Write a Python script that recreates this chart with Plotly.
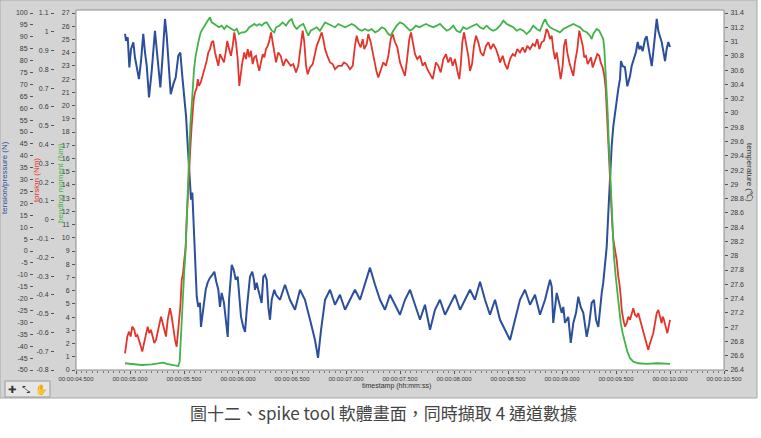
import plotly.graph_objects as go

# ---------------- data ----------------
# tension / pressure (N)
TENSION_T = [4.954,4.963,4.979,4.994,5.009,5.031,5.046,5.068,5.083,5.102,5.123,5.139,5.155,5.176,5.201,5.231,5.247,5.269,5.281,5.299,5.324,5.340,5.355,5.377,5.401,5.423,5.447,5.466,5.484,5.503,5.519,5.531,5.544,5.556,
             5.565,5.577,5.586,5.595,5.608,5.618,5.632,5.648,5.657,5.667,5.679,5.701,5.719,5.741,5.762,5.781,5.799,5.818,5.833,5.849,5.870,5.886,5.905,5.917,5.932,5.942,5.960,5.979,5.997,6.012,6.028,6.049,6.065,6.081,6.095,6.111,6.132,6.148,6.157,6.173,6.188,6.204,6.219,6.234,6.250,6.266,6.281,6.296,6.312,6.336,
             6.352,6.389,6.435,6.481,6.528,6.574,6.620,6.667,6.713,6.741,6.769,6.806,6.852,6.898,6.944,6.991,7.037,7.083,7.130,7.176,7.222,7.269,7.315,7.361,7.407,7.454,7.500,7.546,7.593,7.639,7.685,7.731,7.778,7.824,7.870,7.917,7.963,8.009,8.056,8.102,8.148,8.194,8.241,8.287,8.333,8.380,8.426,8.472,8.519,8.565,8.611,8.657,8.704,8.750,8.796,8.843,
             8.889,8.905,8.919,8.951,8.975,8.997,9.012,9.028,9.058,9.081,9.105,9.130,9.151,9.173,9.197,9.213,9.229,9.253,9.275,9.296,9.315,9.336,9.352,9.368,9.382,9.398,9.414,9.429,9.438,9.444,
             9.460,9.475,9.491,9.506,9.521,9.537,9.546,9.562,9.583,9.605,9.630,9.645,9.667,9.685,9.701,9.716,9.731,9.747,9.769,9.784,9.799,9.815,9.831,9.845,9.861,9.877,9.892,9.907,9.923,9.938,9.954,9.969,9.984,10.000]
TENSION_V = [91.2,88.3,89.8,77.1,84.8,87.7,81.3,75.7,72.2,79.9,91.2,83.4,77.8,64.5,75.7,92.5,84.8,76.4,68.7,79.9,97.5,90.4,79.2,65.9,70.1,72.9,82.0,83.4,73.6,65.2,56.7,46.9,35.7,25.8,
             21.6,24.6,16.2,4.8,-9.1,-19.2,-23.5,-21.8,-31.9,-27.7,-23.5,-16.3,-13.3,-11.2,-10.0,-8.7,-12.9,-16.3,-23.5,-17.6,-21.8,-27.7,-36.1,-20.5,-12.1,-5.8,-7.9,-12.1,-10.8,-17.6,-27.7,-31.9,-34.0,-24.7,-16.3,-10.8,-8.7,-12.1,-16.3,-13.3,-16.3,-19.2,-21.8,-10.8,-10.0,-12.1,-23.5,-28.9,-20.5,-16.3,
             -18.4,-20.5,-14.2,-20.5,-24.7,-16.3,-20.5,-28.9,-37.4,-44.9,-33.1,-20.5,-16.3,-22.6,-18.4,-24.7,-20.5,-16.3,-20.5,-14.2,-7.0,-14.2,-20.5,-24.7,-18.4,-22.6,-26.8,-20.5,-16.3,-22.6,-28.9,-22.6,-33.1,-24.7,-20.5,-26.8,-22.6,-18.4,-24.7,-20.5,-16.3,-20.5,-12.9,-20.5,-26.8,-20.5,-28.9,-33.1,-37.4,-28.9,-20.5,-16.3,-22.6,-18.4,-26.8,-20.5,
             -12.1,-15.0,-30.2,-17.6,-21.8,-26.0,-23.5,-30.2,-27.7,-38.6,-30.2,-26.0,-19.2,-23.5,-26.0,-31.9,-36.1,-30.2,-21.8,-20.5,-28.9,-31.9,-23.5,-17.6,-13.3,-6.6,1.8,16.2,25.8,30.1,
             44.0,52.4,58.3,63.8,68.0,72.2,79.8,77.7,77.2,69.2,73.5,77.7,80.6,83.6,87.8,84.8,86.1,84.0,89.0,90.3,86.1,81.5,77.7,83.6,90.3,97.5,92.4,90.3,87.8,84.0,79.8,84.8,87.8,85.7]

# torsion (Nm)
TORSION_T = [4.954,4.963,4.975,4.991,5.006,5.021,5.040,5.053,5.068,5.083,5.099,5.114,5.130,5.148,5.164,5.179,5.194,5.210,5.225,5.241,5.256,5.271,5.287,5.303,5.318,5.333,5.349,5.370,5.386,5.401,5.417,5.432,5.442,5.454,5.466,5.479,5.491,5.503,5.516,5.525,5.534,5.544,
             5.549,5.558,5.571,5.581,5.590,5.602,5.618,5.627,5.639,5.655,5.673,5.694,5.710,5.725,5.741,5.756,5.771,5.787,5.803,5.818,5.833,5.849,5.870,5.886,5.901,5.917,5.935,5.951,5.966,5.981,5.997,6.012,6.025,6.040,6.058,6.074,6.090,6.105,6.120,6.136,6.151,6.167,6.182,6.197,6.213,6.229,6.244,6.259,6.275,6.290,6.306,6.321,6.336,
             6.352,6.373,6.395,6.419,6.444,6.466,6.488,6.512,6.537,6.558,6.581,6.599,6.614,6.630,6.645,6.667,6.692,6.713,6.729,6.753,
             6.775,6.790,6.806,6.827,6.852,6.877,6.898,6.929,6.960,6.981,7.006,7.037,7.062,7.083,7.099,7.114,7.136,7.155,7.169,7.192,
             7.206,7.229,7.247,7.269,7.284,7.299,7.321,7.345,7.370,7.392,7.414,7.432,7.454,7.475,7.500,7.525,7.546,7.562,7.586,7.602,
             7.618,7.639,7.660,7.685,7.710,7.731,7.753,7.778,7.803,7.818,7.833,7.855,7.877,7.901,7.926,7.947,7.969,7.988,8.009,8.031,
             8.049,8.062,8.077,8.093,8.111,8.132,8.148,8.167,8.185,8.204,8.225,8.247,8.271,8.296,8.318,8.340,8.364,8.389,8.410,8.426,
             8.451,8.472,8.494,8.519,8.543,8.565,8.586,8.611,8.636,8.657,8.679,8.704,8.729,8.750,8.771,8.790,8.812,8.833,8.858,8.873,
             8.889,8.905,8.919,8.935,8.951,8.966,8.988,9.006,9.019,9.034,9.049,9.068,9.090,9.105,9.120,9.142,9.160,9.173,9.192,9.206,
             9.222,9.238,9.253,9.269,9.284,9.306,9.327,9.345,9.358,9.377,9.392,9.405,9.414,9.423,9.432,9.442,9.454,9.463,9.475,9.491,
             9.506,9.521,9.531,9.544,9.553,9.568,9.583,9.599,9.614,9.630,9.645,9.660,9.676,9.692,9.706,9.722,9.738,9.753,9.769,9.784,
             9.799,9.815,9.831,9.845,9.861,9.877,9.892,9.907,9.923,9.932,9.944,9.960,9.975,9.988,10.000]
TORSION_V = [-0.711,-0.676,-0.622,-0.596,-0.622,-0.569,-0.586,-0.622,-0.613,-0.640,-0.676,-0.702,-0.657,-0.604,-0.569,-0.604,-0.586,-0.622,-0.657,-0.640,-0.604,-0.551,-0.516,-0.551,-0.586,-0.622,-0.533,-0.471,-0.516,-0.586,-0.640,-0.676,-0.622,-0.533,-0.462,-0.320,-0.284,-0.213,-0.142,0.001,0.125,0.214,
             0.251,0.374,0.499,0.588,0.641,0.677,0.703,0.748,0.712,0.730,0.765,0.819,0.845,0.890,0.908,0.944,0.952,0.890,0.855,0.819,0.881,0.864,0.837,0.890,0.952,0.908,0.872,0.925,0.997,0.944,0.855,0.712,0.784,0.837,0.890,0.855,0.908,0.864,0.899,0.828,0.864,0.872,0.828,0.792,0.837,0.881,0.864,0.908,0.925,0.952,0.997,0.944,0.908,
             0.837,0.890,0.872,0.819,0.855,0.837,0.819,0.828,0.784,0.819,0.925,1.006,0.944,0.819,0.774,0.810,0.828,0.890,0.925,0.961,
             0.997,0.961,0.908,0.872,0.837,0.828,0.801,0.819,0.819,0.837,0.828,0.801,0.819,0.925,0.979,0.944,0.917,0.961,0.908,0.935,
             0.988,0.944,0.890,0.837,0.784,0.757,0.801,0.837,0.819,0.872,0.961,0.988,0.944,0.917,0.837,0.801,0.765,0.837,0.961,0.997,
             0.944,0.881,0.855,0.872,0.819,0.837,0.801,0.774,0.748,0.792,0.837,0.819,0.784,0.855,0.881,0.837,0.864,0.819,0.855,0.792,
             0.748,0.819,0.944,0.997,0.944,0.872,0.792,0.828,0.925,0.979,0.944,0.890,0.872,0.925,0.944,0.908,0.935,0.908,0.872,0.837,
             0.872,0.828,0.801,0.855,0.881,0.872,0.908,0.890,0.917,0.890,0.925,0.908,0.935,0.925,0.961,0.908,0.944,0.952,1.015,0.997,
             0.961,0.979,0.908,0.855,0.890,0.819,0.748,0.819,0.925,0.961,0.890,0.837,0.801,0.765,0.837,0.908,1.006,0.979,0.925,0.864,
             0.872,0.828,0.845,0.864,0.810,0.845,0.881,0.872,0.837,0.810,0.765,0.694,0.588,0.463,0.321,0.178,0.107,0.001,-0.106,-0.160,
             -0.213,-0.302,-0.337,-0.409,-0.480,-0.533,-0.569,-0.551,-0.516,-0.533,-0.497,-0.471,-0.506,-0.516,-0.497,-0.533,-0.569,-0.604,-0.640,-0.667,
             -0.693,-0.657,-0.622,-0.604,-0.551,-0.497,-0.480,-0.516,-0.551,-0.516,-0.533,-0.569,-0.604,-0.569,-0.533]

# bending moment (Nm)
BENDING_T = [4.954,5.016,5.108,5.201,5.278,5.308,5.340,5.417,5.447,5.460,5.469,5.479,5.488,5.497,5.503,5.512,5.521,5.531,5.540,5.549,
             5.558,5.571,5.583,5.593,5.608,5.623,5.639,5.655,5.673,5.694,5.719,5.741,5.756,5.781,5.803,5.824,5.849,5.873,5.895,5.917,
             5.942,5.966,5.988,6.009,6.034,6.058,6.081,6.105,6.127,6.151,6.173,6.197,6.219,6.244,6.266,6.287,6.312,6.336,
             6.352,6.382,6.414,6.444,6.475,6.497,6.519,6.544,6.574,6.605,6.630,6.651,6.673,6.697,6.729,6.759,6.784,6.806,6.836,6.868,
             6.898,6.929,6.960,6.991,7.021,7.053,7.083,7.114,7.145,7.176,7.206,7.238,7.269,7.299,7.331,7.361,7.392,7.414,7.438,7.469,
             7.500,7.531,7.562,7.593,7.618,7.648,7.679,7.710,7.741,7.771,7.808,7.840,7.870,7.901,7.932,7.963,7.994,8.025,8.056,8.086,
             8.118,8.148,8.179,8.210,8.241,8.271,8.303,8.333,8.364,8.395,8.426,8.457,8.488,8.519,8.549,8.581,8.611,8.642,8.673,8.704,
             8.734,8.766,8.796,8.827,8.843,8.864,8.889,8.919,8.951,8.981,9.012,9.044,9.074,9.105,9.136,9.167,9.197,9.229,9.259,9.275,
             9.290,9.321,9.345,9.368,9.382,9.392,9.401,9.414,9.423,9.432,9.442,9.451,9.460,9.469,9.481,9.497,9.512,9.528,9.544,9.562,
             9.583,9.605,9.630,9.660,9.706,9.784,9.877,9.938,10.000]
BENDING_V = [0.51,0.46,0.38,0.43,0.51,0.55,0.46,0.36,0.30,0.63,2.28,3.54,4.80,6.32,7.58,8.59,10.62,12.39,13.90,16.43,
             18.45,19.97,21.49,22.75,23.76,24.52,25.03,25.54,25.79,26.17,26.42,26.67,26.29,26.17,26.04,25.92,26.04,25.79,26.04,25.92,
             25.79,25.66,25.79,25.41,25.54,25.54,25.66,25.92,26.04,26.17,26.04,26.17,26.04,26.24,26.29,26.04,25.66,25.54,
             25.92,26.04,26.29,26.04,26.42,26.54,26.04,25.79,26.04,26.17,25.66,25.28,25.66,25.79,25.92,25.66,26.04,26.29,26.17,26.04,
             25.92,26.17,26.04,25.92,26.04,26.17,26.04,25.79,25.66,25.79,25.66,25.79,25.54,25.66,25.92,25.79,25.41,25.28,25.66,26.04,
             26.29,26.17,25.92,25.66,25.79,26.04,25.92,26.04,26.17,26.04,25.92,26.04,26.17,25.92,25.66,25.79,26.04,25.66,25.54,25.92,
             25.79,25.92,26.04,26.17,25.92,25.79,26.04,25.79,25.66,25.79,26.04,26.42,26.17,26.04,25.92,25.66,25.79,25.66,25.41,25.66,
             26.04,25.79,25.66,26.29,26.54,26.17,25.92,25.79,25.66,25.54,25.79,25.92,26.04,26.17,26.04,25.92,25.66,25.54,25.28,25.03,
             25.41,25.79,25.66,25.28,25.03,24.27,23.00,21.49,19.47,17.44,15.42,14.41,12.39,10.37,8.59,7.08,5.82,4.55,3.54,2.78,
             2.02,1.39,0.89,0.63,0.51,0.46,0.51,0.46,0.46]

# temperature (°C): channel shown by its axis only
TEMPERATURE_T = []
TEMPERATURE_V = []

# ---------------- ticks ----------------
X_TICKS = [4.5, 5.0, 5.5, 6.0, 6.5, 7.0, 7.5, 8.0, 8.5, 9.0, 9.5, 10.0, 10.5]
X_TICK_TEXT = ["00:00:04.500", "00:00:05.000", "00:00:05.500", "00:00:06.000", "00:00:06.500",
               "00:00:07.000", "00:00:07.500", "00:00:08.000", "00:00:08.500", "00:00:09.000",
               "00:00:09.500", "00:00:10.000", "00:00:10.500"]
TENSION_TICKS = [-50, -45, -40, -35, -30, -25, -20, -15, -10, -5, 0, 5, 10, 15, 20, 25, 30, 35, 40,
                 45, 50, 55, 60, 65, 70, 75, 80, 85, 90, 95, 100]
TENSION_TEXT = ["-50", "-45", "-40", "-35", "-30", "-25", "-20", "-15", "-10", "-5", "0", "5", "10", "15",
                "20", "25", "30", "35", "40", "45", "50", "55", "60", "65", "70", "75", "80", "85", "90",
                "95", "100"]
TORSION_TICKS = [-0.8, -0.7, -0.6, -0.5, -0.4, -0.3, -0.2, -0.1, 0.0, 0.1, 0.2, 0.3, 0.4, 0.5, 0.6,
                 0.7, 0.8, 0.9, 1.0, 1.1]
TORSION_TEXT = ["-0.8", "-0.7", "-0.6", "-0.5", "-0.4", "-0.3", "-0.2", "-0.1", "0", "0.1", "0.2",
                "0.3", "0.4", "0.5", "0.6", "0.7", "0.8", "0.9", "1", "1.1"]
BENDING_TICKS = [0, 1, 2, 3, 4, 5, 6, 7, 8, 9, 10, 11, 12, 13, 14, 15, 16, 17, 18, 19, 20, 21, 22,
                 23, 24, 25, 26, 27]
BENDING_TEXT = [str(v) for v in BENDING_TICKS]
TEMP_TICKS = [26.4, 26.6, 26.8, 27.0, 27.2, 27.4, 27.6, 27.8, 28.0, 28.2, 28.4, 28.6, 28.8, 29.0,
              29.2, 29.4, 29.6, 29.8, 30.0, 30.2, 30.4, 30.6, 30.8, 31.0, 31.2, 31.4]
TEMP_TEXT = ["26.4", "26.6", "26.8", "27", "27.2", "27.4", "27.6", "27.8", "28", "28.2", "28.4",
             "28.6", "28.8", "29", "29.2", "29.4", "29.6", "29.8", "30", "30.2", "30.4", "30.6",
             "30.8", "31", "31.2", "31.4"]

assert len(TENSION_T) == len(TENSION_V)
assert len(TORSION_T) == len(TORSION_V)
assert len(BENDING_T) == len(BENDING_V)

# ---------------- styling ----------------
W, H = 761, 438
BLUE = "#2c4f9c"
RED = "#e4342b"
GREEN = "#40b44a"
PANEL = "#d4d4d4"
TICKC = "#3a3a3a"
FONT = "Liberation Sans"

ML, MT, MB = 0, 13, 68
PX_L, PX_R = 76, 724
PLOT_H = H - MT - MB


def px(x):
    return x / W


def py(y):
    return (H - MB - y) / PLOT_H


fig = go.Figure()
fig.add_trace(go.Scatter(x=BENDING_T, y=BENDING_V, mode="lines", yaxis="y3",
                         line=dict(color=GREEN, width=1.8), name="bending moment"))
fig.add_trace(go.Scatter(x=TORSION_T, y=TORSION_V, mode="lines", yaxis="y2",
                         line=dict(color=RED, width=1.8), name="torsion"))
fig.add_trace(go.Scatter(x=TENSION_T, y=TENSION_V, mode="lines", yaxis="y",
                         line=dict(color=BLUE, width=2), name="tension/pressure"))
fig.add_trace(go.Scatter(x=TEMPERATURE_T, y=TEMPERATURE_V, mode="lines", yaxis="y4",
                         line=dict(color="#333", width=1.5), name="temperature"))

tickfont = dict(family=FONT, size=7, color=TICKC)
common_y = dict(showgrid=False, zeroline=False, showline=False, ticks="outside", tickmode="array",
                ticklen=3, tickwidth=1, tickcolor="#555", tickfont=tickfont, ticklabelstandoff=1,
                automargin=False)

fig.update_layout(
    width=W, height=H,
    margin=dict(l=ML, r=0, t=MT, b=MB, pad=0, autoexpand=False),
    paper_bgcolor="white",
    plot_bgcolor="rgba(0,0,0,0)",
    showlegend=False,
    hovermode=False,
    xaxis=dict(domain=[px(PX_L), px(PX_R)], range=[4.5, 10.5], showgrid=False, zeroline=False,
               showline=False, tickmode="array", tickvals=X_TICKS, ticktext=X_TICK_TEXT,
               ticks="outside", ticklen=3, tickcolor="#555", automargin=False,
               tickfont=dict(family=FONT, size=6, color=TICKC),
               minor=dict(dtick=0.05, tick0=4.5, ticks="outside", ticklen=2, tickcolor="#777")),
    yaxis=dict(range=[-50, 100], tickvals=TENSION_TICKS, ticktext=TENSION_TEXT,
               anchor="free", position=px(33), side="left", **common_y),
    yaxis2=dict(range=[-0.8, 1.1], tickvals=TORSION_TICKS, ticktext=TORSION_TEXT,
                anchor="free", position=px(54), side="left", overlaying="y", autoshift=False, **common_y),
    yaxis3=dict(range=[0, 27], tickvals=BENDING_TICKS, ticktext=BENDING_TEXT,
                anchor="x", side="left", overlaying="y", **common_y),
    yaxis4=dict(range=[26.4, 31.4], tickvals=TEMP_TICKS, ticktext=TEMP_TEXT,
                anchor="x", side="right", overlaying="y", **common_y),
)

shapes = [
    # grey instrument panel
    dict(type="rect", xref="paper", yref="paper", x0=0, x1=px(757), y0=py(398), y1=py(0),
         fillcolor=PANEL, line=dict(color="#a8a8a8", width=1), layer="below"),
    # white plot area
    dict(type="rect", xref="paper", yref="paper", x0=px(PX_L), x1=px(PX_R), y0=0, y1=py(10),
         fillcolor="white", line=dict(color="#8c8c8c", width=1), layer="below"),
    # tool palette box
    dict(type="rect", xref="paper", yref="paper", x0=px(5), x1=px(50), y0=py(397), y1=py(381),
         fillcolor="#e6e6e6", line=dict(color="#9a9a9a", width=1), layer="below"),
]
fig.update_layout(shapes=shapes)

ann = [
    dict(text="tension/pressure (N)", x=px(4), y=py(178), textangle=-90, font=dict(color=BLUE)),
    dict(text="torsion (Nm)", x=px(36), y=py(180), textangle=-90, font=dict(color=RED)),
    dict(text="bending moment (Nm)", x=px(60), y=py(183), textangle=-90, font=dict(color=GREEN)),
    dict(text="temperature (℃)", x=px(750), y=py(172), textangle=90, font=dict(color="#333")),
    dict(text="timestamp (hh:mm:ss)", x=px(396), y=py(386), font=dict(color="#333", size=7)),
]
for a in ann:
    f = dict(family=FONT, size=8)
    f.update(a.pop("font"))
    fig.add_annotation(xref="paper", yref="paper", showarrow=False, xanchor="center", yanchor="middle",
                       font=f, **a)

# tool palette icons
for txt, xx in [("✚", 12), ("⤡", 26), ("✋", 41)]:
    fig.add_annotation(xref="paper", yref="paper", x=px(xx), y=py(389), text=txt, showarrow=False,
                       font=dict(family="DejaVu Sans", size=10, color="#333"), xanchor="center", yanchor="middle")

# caption
fig.add_annotation(xref="paper", yref="paper", x=px(384), y=py(412.5), showarrow=False,
                   text="圖十二、spike tool 軟體畫面，同時擷取 4 通道數據",
                   font=dict(family="Noto Sans CJK TC", size=17, color="#444"),
                   xanchor="center", yanchor="middle")

fig.write_html("out.html", config={"displayModeBar": False},
               post_script="document.body.style.margin='0px';document.body.style.padding='0px';")
